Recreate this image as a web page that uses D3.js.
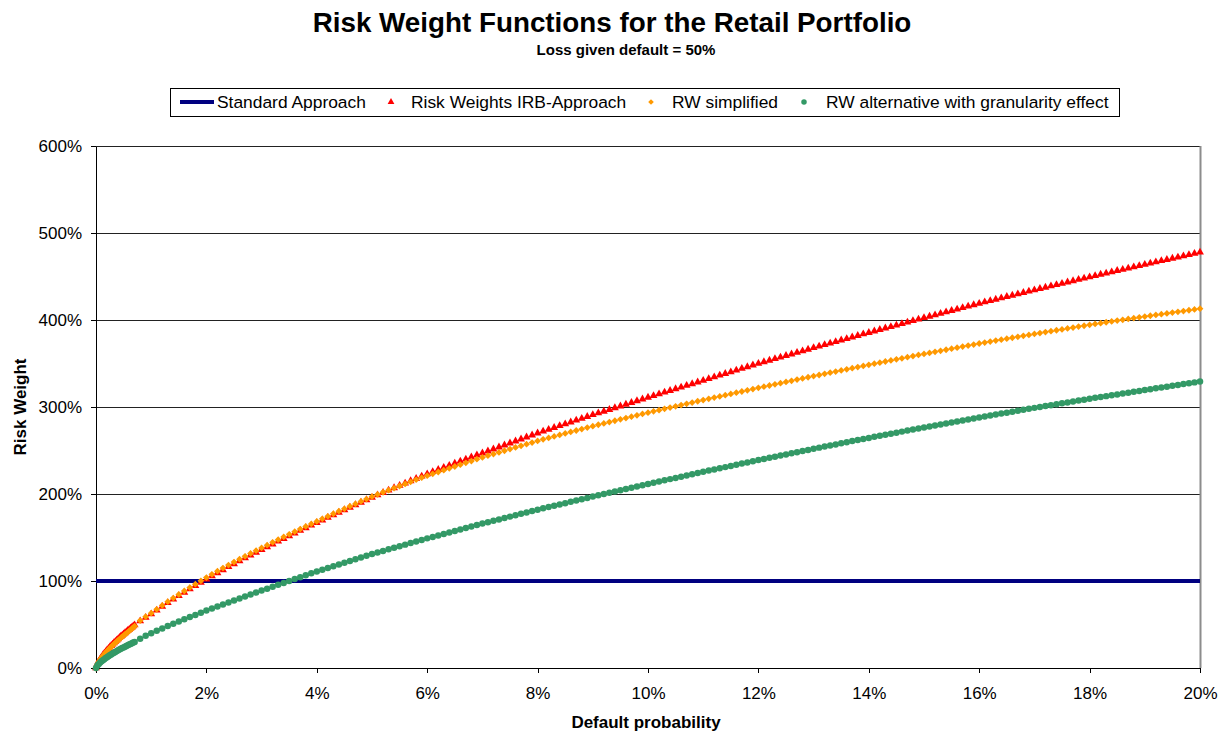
<!DOCTYPE html>
<html lang="en">

<head>
  <meta charset="UTF-8">
  <title>Risk Weight Functions for the Retail Portfolio</title>
  <script src="https://d3js.org/d3.v7.min.js"></script>
  <style>
    body { margin: 0; background: #fff; }
    text { font-family: Arial, "Liberation Sans", sans-serif; fill: #000; }
  </style>
</head>

<body>
  <div class="canvas"></div>
  <script>
    // default probability (%), fine grid up to 0.7%, then 0.1% steps
    const pdFine = [0, 0.025, 0.05, 0.075, 0.1, 0.125, 0.15, 0.175, 0.2, 0.225, 0.25, 0.275, 0.3, 0.325,
      0.35, 0.375, 0.4, 0.425, 0.45, 0.475, 0.5, 0.525, 0.55, 0.575, 0.6, 0.625, 0.65, 0.675, 0.7];
    const pdCoarse = [0.8, 0.9,
      1.0, 1.1, 1.2, 1.3, 1.4, 1.5, 1.6, 1.7, 1.8, 1.9,
      2.0, 2.1, 2.2, 2.3, 2.4, 2.5, 2.6, 2.7, 2.8, 2.9,
      3.0, 3.1, 3.2, 3.3, 3.4, 3.5, 3.6, 3.7, 3.8, 3.9,
      4.0, 4.1, 4.2, 4.3, 4.4, 4.5, 4.6, 4.7, 4.8, 4.9,
      5.0, 5.1, 5.2, 5.3, 5.4, 5.5, 5.6, 5.7, 5.8, 5.9,
      6.0, 6.1, 6.2, 6.3, 6.4, 6.5, 6.6, 6.7, 6.8, 6.9,
      7.0, 7.1, 7.2, 7.3, 7.4, 7.5, 7.6, 7.7, 7.8, 7.9,
      8.0, 8.1, 8.2, 8.3, 8.4, 8.5, 8.6, 8.7, 8.8, 8.9,
      9.0, 9.1, 9.2, 9.3, 9.4, 9.5, 9.6, 9.7, 9.8, 9.9,
      10.0, 10.1, 10.2, 10.3, 10.4, 10.5, 10.6, 10.7, 10.8, 10.9,
      11.0, 11.1, 11.2, 11.3, 11.4, 11.5, 11.6, 11.7, 11.8, 11.9,
      12.0, 12.1, 12.2, 12.3, 12.4, 12.5, 12.6, 12.7, 12.8, 12.9,
      13.0, 13.1, 13.2, 13.3, 13.4, 13.5, 13.6, 13.7, 13.8, 13.9,
      14.0, 14.1, 14.2, 14.3, 14.4, 14.5, 14.6, 14.7, 14.8, 14.9,
      15.0, 15.1, 15.2, 15.3, 15.4, 15.5, 15.6, 15.7, 15.8, 15.9,
      16.0, 16.1, 16.2, 16.3, 16.4, 16.5, 16.6, 16.7, 16.8, 16.9,
      17.0, 17.1, 17.2, 17.3, 17.4, 17.5, 17.6, 17.7, 17.8, 17.9,
      18.0, 18.1, 18.2, 18.3, 18.4, 18.5, 18.6, 18.7, 18.8, 18.9,
      19.0, 19.1, 19.2, 19.3, 19.4, 19.5, 19.6, 19.7, 19.8, 19.9,
      20.0];

    // risk weights (%), same order as pdFine followed by pdCoarse
    const rwIrb = [0, 4.8, 7.8, 10.3, 12.6, 14.8, 16.8, 18.7, 20.5, 22.3, 24.0, 25.7, 27.3, 28.9,
      30.4, 31.9, 33.4, 34.9, 36.3, 37.7, 39.0, 40.4, 41.7, 43.0, 44.3, 45.6, 46.9, 48.2, 49.5,
      54, 58,
      62, 66.4, 70.7, 74.9, 79, 83, 86.9, 90.8, 94.6, 98.3,
      102, 105.7, 109.3, 112.8, 116.3, 119.7, 123.1, 126.4, 129.7, 132.9,
      136, 139.2, 142.4, 145.6, 148.7, 151.8, 154.9, 158, 161, 164,
      167, 170, 173, 175.9, 178.8, 181.7, 184.6, 187.5, 190.4, 193.2,
      196, 198.8, 201.6, 204.3, 207, 209.7, 212.4, 215.1, 217.7, 220.3,
      223, 225.5, 228, 230.4, 232.8, 235.2, 237.6, 240, 242.4, 244.7,
      247, 249.3, 251.6, 253.9, 256.2, 258.5, 260.8, 263.1, 265.4, 267.7,
      270, 272.1, 274.2, 276.3, 278.4, 280.5, 282.6, 284.7, 286.8, 288.9,
      291, 293, 295, 297, 299, 301, 303, 305, 307, 309,
      311, 313, 314.9, 316.9, 318.8, 320.8, 322.7, 324.7, 326.6, 328.6,
      330.5, 332.5, 334.4, 336.4, 338.3, 340.3, 342.2, 344.2, 346.1, 348.1,
      350, 351.8, 353.6, 355.4, 357.2, 359, 360.8, 362.6, 364.4, 366.2,
      368, 369.8, 371.5, 373.3, 375, 376.8, 378.5, 380.3, 382, 383.8,
      385.5, 387.2, 388.9, 390.6, 392.3, 394, 395.7, 397.4, 399.1, 400.8,
      402.5, 404.2, 405.8, 407.5, 409.1, 410.8, 412.4, 414.1, 415.7, 417.4,
      419, 420.6, 422.1, 423.7, 425.2, 426.8, 428.3, 429.9, 431.4, 433,
      434.5, 436, 437.5, 439, 440.5, 442, 443.5, 445, 446.5, 448,
      449.5, 450.9, 452.4, 453.8, 455.2, 456.7, 458.1, 459.5, 460.9, 462.4,
      463.8, 465.2, 466.6, 468, 469.4, 470.8, 472.2, 473.6, 475, 476.4,
      477.8];

    const rwSimplified = [0, 4.4, 7.2, 9.6, 11.8, 13.9, 15.8, 17.6, 19.4, 21.1, 22.7, 24.3, 25.9, 27.4,
      28.9, 30.4, 31.8, 33.2, 34.6, 36.0, 37.3, 38.6, 39.9, 41.2, 42.5, 43.9, 45.2, 46.6, 48,
      54.5, 59,
      63, 67.5, 71.9, 76.2, 80.4, 84.5, 88.5, 92.4, 96.3, 100.2,
      104, 107.7, 111.3, 114.8, 118.3, 121.7, 125.1, 128.4, 131.7, 134.9,
      138, 141.2, 144.4, 147.5, 150.6, 153.7, 156.7, 159.7, 162.7, 165.6,
      168.5, 171.5, 174.4, 177.3, 180.2, 183, 185.8, 188.6, 191.4, 194.2,
      197, 199.5, 202, 204.4, 206.8, 209.2, 211.6, 214, 216.4, 218.7,
      221, 223.2, 225.3, 227.4, 229.5, 231.6, 233.7, 235.8, 237.9, 240,
      242, 244, 245.9, 247.8, 249.7, 251.6, 253.5, 255.4, 257.3, 259.1,
      261, 262.8, 264.5, 266.2, 267.9, 269.6, 271.3, 273, 274.6, 276.3,
      278, 279.6, 281.1, 282.7, 284.2, 285.8, 287.3, 288.9, 290.4, 292,
      293.5, 295, 296.4, 297.9, 299.3, 300.8, 302.2, 303.7, 305.1, 306.6,
      308, 309.4, 310.8, 312.2, 313.6, 315, 316.4, 317.8, 319.2, 320.6,
      322, 323.4, 324.7, 326.1, 327.4, 328.8, 330.1, 331.5, 332.8, 334.2,
      335.5, 336.8, 338.1, 339.4, 340.7, 342, 343.3, 344.6, 345.9, 347.2,
      348.5, 349.8, 351, 352.3, 353.5, 354.8, 356, 357.3, 358.5, 359.8,
      361, 362.2, 363.4, 364.6, 365.8, 367, 368.2, 369.4, 370.6, 371.8,
      373, 374.1, 375.2, 376.3, 377.4, 378.5, 379.6, 380.7, 381.8, 382.9,
      384, 385, 386.1, 387.1, 388.2, 389.2, 390.3, 391.3, 392.4, 393.4,
      394.5, 395.5, 396.4, 397.4, 398.3, 399.3, 400.2, 401.2, 402.1, 403.1,
      404, 404.9, 405.8, 406.7, 407.6, 408.5, 409.4, 410.3, 411.2, 412.1,
      413];

    const rwGranular = [0, 2.9, 4.7, 6.3, 7.7, 9.0, 10.2, 11.4, 12.5, 13.6, 14.6, 15.6, 16.6, 17.6,
      18.5, 19.4, 20.3, 21.2, 22.0, 22.9, 23.7, 24.5, 25.3, 26.1, 26.9, 27.7, 28.5, 29.3, 30,
      33.5, 37,
      40, 42.8, 45.5, 48.2, 50.8, 53.4, 56, 58.5, 61, 63.5,
      66, 68.4, 70.7, 73, 75.3, 77.6, 79.9, 82.2, 84.5, 86.8,
      89, 91.2, 93.4, 95.6, 97.8, 100, 102.2, 104.4, 106.6, 108.8,
      111, 113, 115, 117, 119, 121, 123, 125, 127, 129,
      131, 132.8, 134.6, 136.4, 138.2, 140, 141.8, 143.6, 145.4, 147.2,
      149, 150.7, 152.4, 154.1, 155.8, 157.5, 159.2, 160.9, 162.6, 164.3,
      166, 167.6, 169.2, 170.8, 172.4, 174, 175.6, 177.2, 178.8, 180.4,
      182, 183.5, 185, 186.5, 188, 189.5, 191, 192.5, 194, 195.5,
      197, 198.5, 199.9, 201.4, 202.8, 204.3, 205.7, 207.2, 208.6, 210.1,
      211.5, 212.9, 214.3, 215.7, 217.1, 218.5, 219.9, 221.3, 222.7, 224.1,
      225.5, 226.9, 228.2, 229.6, 230.9, 232.3, 233.6, 235, 236.3, 237.7,
      239, 240.3, 241.6, 242.9, 244.2, 245.5, 246.8, 248.1, 249.4, 250.7,
      252, 253.3, 254.5, 255.8, 257, 258.3, 259.5, 260.8, 262, 263.3,
      264.5, 265.7, 266.9, 268.1, 269.3, 270.5, 271.7, 272.9, 274.1, 275.3,
      276.5, 277.7, 278.8, 280, 281.1, 282.3, 283.4, 284.6, 285.7, 286.9,
      288, 289.1, 290.2, 291.3, 292.4, 293.5, 294.6, 295.7, 296.8, 297.9,
      299, 300, 301.1, 302.1, 303.2, 304.2, 305.3, 306.3, 307.4, 308.4,
      309.5, 310.5, 311.5, 312.5, 313.5, 314.5, 315.5, 316.5, 317.5, 318.5,
      319.5, 320.5, 321.5, 322.4, 323.4, 324.4, 325.4, 326.4, 327.3, 328.3,
      329.3];

    // standard approach: flat 100%
    const stdPd = [0, 20];
    const stdRw = [100, 100];

    const xTicks = [0, 2, 4, 6, 8, 10, 12, 14, 16, 18, 20];
    const yTicks = [0, 100, 200, 300, 400, 500, 600];

    const width = 1226;
    const height = 733;
    let [mt, mb, mr, ml] = [146, 65, 26, 96];

    const pd = pdFine.concat(pdCoarse);

    const svg = d3.select('.canvas')
      .append('svg')
      .attr('width', width)
      .attr('height', height)

    const x = d3.scaleLinear().domain([0, 20]).range([ml, width - mr]);
    const y = d3.scaleLinear().domain([0, 600]).range([height - mb, mt]);

    // titles
    svg.append('text')
      .attr('x', 612).attr('y', 32)
      .attr('text-anchor', 'middle')
      .style('font-size', '27.8px').style('font-weight', 'bold')
      .text('Risk Weight Functions for the Retail Portfolio')
    svg.append('text')
      .attr('x', 626).attr('y', 55)
      .attr('text-anchor', 'middle')
      .style('font-size', '15px').style('font-weight', 'bold')
      .text('Loss given default = 50%')

    // gridlines
    svg.append('g')
      .attr('transform', `translate(${ml},0)`)
      .call(d3.axisLeft(y).tickValues(yTicks).tickSize(-(width - mr - ml)).tickFormat(''))
      .call(g => g.select('.domain').remove())
      .call(g => g.selectAll('line').attr('stroke', '#222').attr('shape-rendering', 'crispEdges'))

    // right border of plot area
    svg.append('line')
      .attr('x1', x(20) + 0.5).attr('x2', x(20) + 0.5)
      .attr('y1', y(600)).attr('y2', y(0))
      .attr('stroke', '#8c8c8c').attr('stroke-width', 2)

    // axes
    const yAxis = svg.append('g')
      .attr('transform', `translate(${ml},0)`)
      .call(d3.axisLeft(y).tickValues(yTicks).tickSize(5).tickSizeOuter(0).tickPadding(9)
        .tickFormat(d => d + '%'))
    const xAxis = svg.append('g')
      .attr('transform', `translate(0,${height - mb})`)
      .call(d3.axisBottom(x).tickValues(xTicks).tickSize(5).tickSizeOuter(0).tickPadding(14)
        .tickFormat(d => d + '%'))
    ;[yAxis, xAxis].forEach(g => {
      g.selectAll('path, line').attr('stroke', '#000').attr('shape-rendering', 'crispEdges')
      g.selectAll('text').style('font-size', '17px').style('font-family', 'Arial, "Liberation Sans", sans-serif').attr('fill', '#000')
    })

    svg.append('text')
      .attr('x', 646).attr('y', 728)
      .attr('text-anchor', 'middle')
      .style('font-size', '17px').style('font-weight', 'bold')
      .text('Default probability')
    svg.append('text')
      .attr('transform', `translate(26,${(y(0) + y(600)) / 2}) rotate(-90)`)
      .attr('text-anchor', 'middle')
      .style('font-size', '17px').style('font-weight', 'bold')
      .text('Risk Weight')

    // standard approach line
    const line = d3.line().x(d => x(d[0])).y(d => y(d[1]))
    svg.append('path')
      .datum(stdPd.map((p, i) => [p, stdRw[i]]))
      .attr('d', line)
      .attr('fill', 'none')
      .attr('stroke', '#000080')
      .attr('stroke-width', 4)

    const triangle = d3.symbol().type(d3.symbolTriangle).size(27)
    const diamond = d3.symbol().type(d3.symbolSquare).size(23)
    const circle = d3.symbol().type(d3.symbolCircle).size(33)

    const series = [
      { name: 'Risk Weights IRB-Approach', values: rwIrb, color: '#ff0000', sym: triangle, rot: 0 },
      { name: 'RW simplified', values: rwSimplified, color: '#ff9900', sym: diamond, rot: 45 },
      { name: 'RW alternative with granularity effect', values: rwGranular, color: '#339966', sym: circle, rot: 0 }
    ]

    series.forEach(s => {
      svg.append('g')
        .selectAll('path')
        .data(pd.map((p, i) => [p, s.values[i]]))
        .enter()
        .append('path')
        .attr('d', s.sym)
        .attr('transform', d => `translate(${x(d[0])},${y(d[1])}) rotate(${s.rot})`)
        .attr('fill', s.color)
    })

    // legend
    const legendSym = {
      tri: d3.symbol().type(d3.symbolTriangle).size(20),
      dia: d3.symbol().type(d3.symbolSquare).size(16),
      cir: d3.symbol().type(d3.symbolCircle).size(24)
    }
    const legend = svg.append('g')
    legend.append('rect')
      .attr('x', 170.5).attr('y', 88.5)
      .attr('width', 949).attr('height', 28)
      .attr('fill', '#fff').attr('stroke', '#000')
    legend.append('line')
      .attr('x1', 180).attr('x2', 214).attr('y1', 102).attr('y2', 102)
      .attr('stroke', '#000080').attr('stroke-width', 4)
    legend.append('text').attr('x', 217).attr('y', 108).style('font-size', '17.4px').text('Standard Approach')

    const legendItems = [
      { cx: 391, tx: 411, s: series[0], sym: legendSym.tri },
      { cx: 651, tx: 672, s: series[1], sym: legendSym.dia },
      { cx: 804, tx: 826, s: series[2], sym: legendSym.cir }
    ]
    legendItems.forEach(it => {
      legend.append('path')
        .attr('d', it.sym)
        .attr('transform', `translate(${it.cx},102) rotate(${it.s.rot})`)
        .attr('fill', it.s.color)
      legend.append('text').attr('x', it.tx).attr('y', 108).style('font-size', '17.4px').text(it.s.name)
    })
  </script>

</body>

</html>
